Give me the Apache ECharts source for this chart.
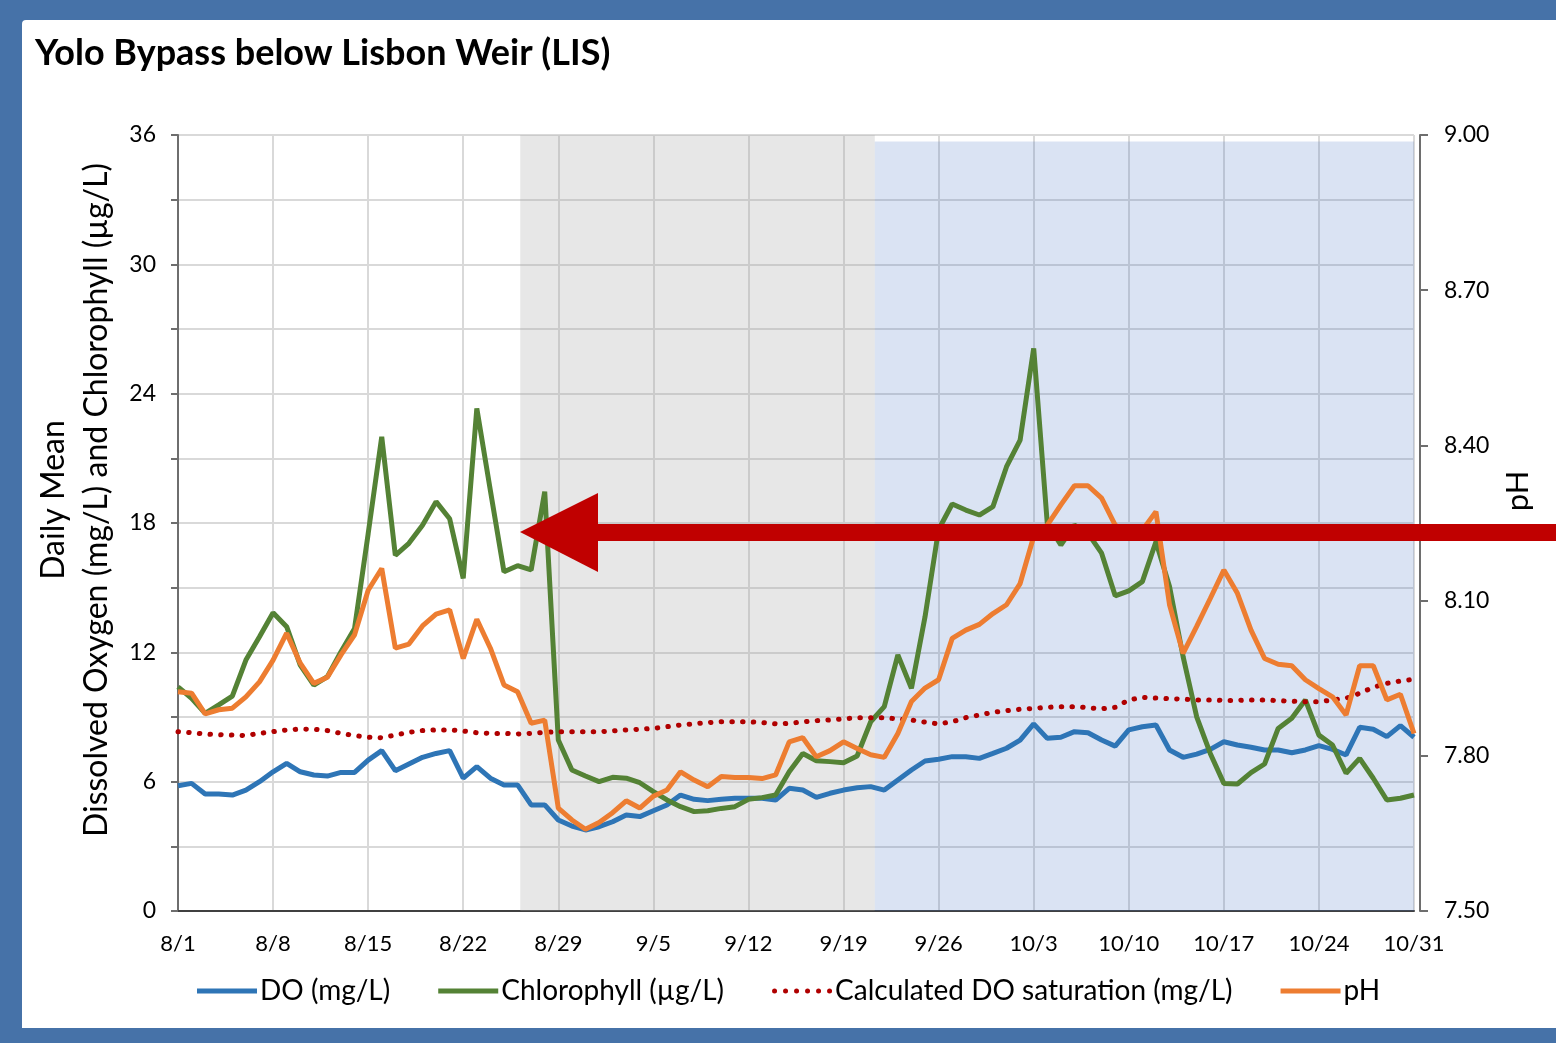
<!DOCTYPE html>
<html>
<head>
<meta charset="utf-8">
<script src="https://cdn.jsdelivr.net/npm/echarts@6/dist/echarts.min.js"></script>
<style>
html,body{margin:0;padding:0;width:1556px;height:1043px;overflow:hidden;background:#4672a8;}
#panel{position:absolute;left:22px;top:20px;width:1534px;height:1008px;background:#ffffff;border-top-left-radius:4px;}
#chart{position:absolute;left:0;top:0;width:1556px;height:1043px;}
</style>
</head>
<body>
<div id="panel"></div>
<div id="chart"></div>
<script>
// Day labels, 8/1 .. 10/31
const dates = [
 '8/1','8/2','8/3','8/4','8/5','8/6','8/7','8/8','8/9','8/10','8/11','8/12','8/13','8/14','8/15','8/16',
 '8/17','8/18','8/19','8/20','8/21','8/22','8/23','8/24','8/25','8/26','8/27','8/28','8/29','8/30','8/31',
 '9/1','9/2','9/3','9/4','9/5','9/6','9/7','9/8','9/9','9/10','9/11','9/12','9/13','9/14','9/15',
 '9/16','9/17','9/18','9/19','9/20','9/21','9/22','9/23','9/24','9/25','9/26','9/27','9/28','9/29','9/30',
 '10/1','10/2','10/3','10/4','10/5','10/6','10/7','10/8','10/9','10/10','10/11','10/12','10/13','10/14','10/15','10/16',
 '10/17','10/18','10/19','10/20','10/21','10/22','10/23','10/24','10/25','10/26','10/27','10/28','10/29','10/30','10/31'
];

const doValues = [
 5.81,5.92,5.43,5.43,5.38,5.61,6.00,6.46,6.85,6.46,6.31,6.26,6.43,6.43,7.00,7.44,
 6.51,6.82,7.13,7.31,7.44,6.16,6.70,6.16,5.85,5.85,4.92,4.92,4.22,3.94,3.76,
 3.91,4.14,4.45,4.38,4.65,4.92,5.38,5.18,5.12,5.18,5.23,5.23,5.23,5.15,5.69,
 5.61,5.27,5.46,5.61,5.72,5.77,5.61,6.08,6.54,6.96,7.04,7.16,7.16,7.08,7.31,
 7.55,7.93,8.68,8.01,8.06,8.32,8.27,7.93,7.65,8.40,8.55,8.63,7.47,7.13,7.28,7.50,
 7.85,7.70,7.60,7.47,7.47,7.34,7.47,7.67,7.50,7.24,8.52,8.43,8.09,8.60,8.06
];

const chlorophyll = [
 10.40,9.87,9.17,9.56,9.97,11.64,12.72,13.84,13.19,11.41,10.48,10.87,12.03,13.11,17.50,22.00,
 16.50,17.06,17.90,18.99,18.20,15.43,23.32,19.50,15.74,16.02,15.82,19.45,7.93,6.54,6.26,
 6.00,6.20,6.16,5.95,5.54,5.15,4.84,4.61,4.65,4.76,4.84,5.18,5.26,5.38,6.46,
 7.31,6.97,6.93,6.88,7.19,8.78,9.48,11.88,10.33,13.65,17.70,18.88,18.60,18.37,18.76,
 20.61,21.85,26.10,17.98,16.98,17.90,17.52,16.60,14.62,14.85,15.28,17.13,15.05,11.80,9.01,7.31,
 5.92,5.89,6.42,6.82,8.47,8.94,9.79,8.16,7.70,6.39,7.08,6.16,5.15,5.23,5.38
];

const doSaturation = [
 8.32,8.27,8.21,8.18,8.16,8.14,8.24,8.32,8.40,8.44,8.43,8.37,8.24,8.14,8.06,8.04,
 8.16,8.29,8.37,8.40,8.40,8.35,8.27,8.24,8.24,8.21,8.24,8.29,8.32,8.32,8.32,
 8.32,8.35,8.40,8.43,8.47,8.55,8.63,8.68,8.74,8.78,8.78,8.78,8.74,8.68,8.70,
 8.78,8.83,8.86,8.91,8.97,8.97,8.97,8.91,8.86,8.76,8.68,8.78,8.97,9.09,9.22,
 9.29,9.36,9.40,9.45,9.48,9.48,9.43,9.38,9.45,9.79,9.91,9.88,9.85,9.83,9.79,9.79,
 9.77,9.77,9.79,9.79,9.76,9.73,9.71,9.71,9.79,9.87,10.10,10.38,10.56,10.67,10.75
];

const phValues = [
 7.924,7.921,7.881,7.889,7.892,7.914,7.943,7.985,8.037,7.979,7.940,7.952,7.995,8.034,8.120,8.162,
 8.008,8.016,8.051,8.074,8.082,7.988,8.064,8.008,7.937,7.924,7.863,7.869,7.699,7.676,7.658,
 7.671,7.690,7.713,7.699,7.722,7.734,7.769,7.753,7.740,7.760,7.758,7.758,7.756,7.763,7.827,
 7.835,7.798,7.810,7.827,7.814,7.802,7.797,7.843,7.905,7.931,7.947,8.027,8.043,8.054,8.075,
 8.092,8.133,8.224,8.246,8.285,8.322,8.322,8.298,8.246,8.227,8.236,8.272,8.092,7.998,8.050,8.104,
 8.159,8.114,8.043,7.988,7.977,7.974,7.947,7.930,7.914,7.879,7.974,7.974,7.908,7.919,7.843
];

const seriesNames = ['DO (mg/L)', 'Chlorophyll (µg/L)', 'Calculated DO saturation (mg/L)', 'pH'];
const grayPeriod = [25.2, 51.3];   // day index range of grey shading
const bluePeriod = [51.3, 91.1];   // day index range of blue shading

const FONT = 'Lato, "Open Sans", sans-serif';
const pairs = arr => arr.map((v, i) => [i, v]);

// legend icon: a row of six round dots
let dotPath = 'path://';
for (let k = 0; k < 6; k++) {
  const cx = 2.5 + k * 11;
  dotPath += 'M' + (cx - 2.5) + ',2.5a2.5,2.5 0 1,0 5,0a2.5,2.5 0 1,0 -5,0z';
}

const chart = echarts.init(document.getElementById('chart'), null, {renderer: 'canvas'});
chart.setOption({
  backgroundColor: 'transparent',
  animation: false,
  textStyle: {fontFamily: FONT, color: '#000'},
  title: {
    text: 'Yolo Bypass below Lisbon Weir (LIS)',
    left: 30, top: 30,
    textStyle: {fontFamily: FONT, fontSize: 36, fontWeight: 'bold', color: '#000'}
  },
  grid: {left: 178, right: 142, top: 135, bottom: 132, containLabel: false},
  legend: {
    data: [
      {name: seriesNames[0], icon: 'rect'},
      {name: seriesNames[1], icon: 'rect'},
      {name: seriesNames[2], icon: dotPath},
      {name: seriesNames[3], icon: 'rect'}
    ],
    left: 192, top: 972,
    itemWidth: 60, itemHeight: 5, itemGap: 48,
    textStyle: {fontFamily: FONT, fontSize: 28, color: '#000', padding: [0, 0, 0, -2]}
  },
  xAxis: {
    type: 'value', min: 0, max: 91, interval: 7,
    axisLine: {show: true, onZero: false, lineStyle: {color: '#404040', width: 2}},
    axisTick: {show: false},
    axisLabel: {
      margin: 22, fontSize: 22, color: '#000', fontFamily: FONT,
      formatter: v => dates[v] || ''
    },
    splitLine: {show: true, lineStyle: {color: '#d9d9d9', width: 2}}
  },
  yAxis: [{
    type: 'value', min: 0, max: 36, interval: 3, position: 'left',
    name: 'Daily Mean\nDissolved Oxygen (mg/L) and Chlorophyll (µg/L)',
    nameLocation: 'middle', nameRotate: 90, nameGap: 60,
    nameTextStyle: {fontFamily: FONT, fontSize: 32, lineHeight: 43, color: '#000', padding: [0, 0, 0, 46]},
    axisLine: {show: true, lineStyle: {color: '#6e6e6e', width: 2}},
    axisTick: {show: true, inside: false, length: 7, lineStyle: {color: '#6e6e6e', width: 2}},
    axisLabel: {margin: 22, fontSize: 23, color: '#000', fontFamily: FONT,
      formatter: v => (v % 6 === 0 ? String(v) : '')},
    splitLine: {show: true, lineStyle: {color: '#d9d9d9', width: 2}}
  }, {
    type: 'value', min: 7.5, max: 9.0, interval: 0.3, position: 'right', offset: 6,
    name: 'pH', nameLocation: 'middle', nameRotate: 90, nameGap: 82,
    nameTextStyle: {fontFamily: FONT, fontSize: 31, color: '#000', padding: [0, 0, 0, 64]},
    axisLine: {show: true, lineStyle: {color: '#6e6e6e', width: 2}},
    axisTick: {show: true, inside: false, length: 8, lineStyle: {color: '#6e6e6e', width: 2}},
    axisLabel: {margin: 24, fontSize: 23, color: '#000', fontFamily: FONT,
      formatter: v => v.toFixed(2)},
    splitLine: {show: false}
  }],
  series: [
    {name: seriesNames[0], type: 'line', yAxisIndex: 0, data: pairs(doValues), symbol: 'none', z: 2,
     lineStyle: {color: '#2e75b6', width: 5}, itemStyle: {color: '#2e75b6'}},
    {name: seriesNames[1], type: 'line', yAxisIndex: 0, data: pairs(chlorophyll), symbol: 'none', z: 2,
     lineStyle: {color: '#548235', width: 5}, itemStyle: {color: '#548235'}},
    {name: seriesNames[2], type: 'line', yAxisIndex: 0, data: pairs(doSaturation), symbol: 'none', z: 2,
     lineStyle: {color: '#b00000', width: 5, type: [0.5, 10.2], cap: 'round'}, itemStyle: {color: '#b00000'}},
    {name: seriesNames[3], type: 'line', yAxisIndex: 1, data: pairs(phValues), symbol: 'none', z: 2,
     lineStyle: {color: '#ed7d31', width: 5}, itemStyle: {color: '#ed7d31'}},
    {name: 'shading', type: 'line', yAxisIndex: 0, data: [], z: 5, silent: true,
     markArea: {
       silent: true,
       data: [
         [{xAxis: grayPeriod[0], itemStyle: {color: 'rgba(166,166,166,0.27)'}}, {xAxis: grayPeriod[1]}],
         [{coord: [bluePeriod[0], -0.2], itemStyle: {color: 'rgba(68,114,196,0.2)'}}, {coord: [bluePeriod[1], 35.7]}]
       ]
     }}
  ],
  graphic: [
    {type: 'polygon', z: 100, shape: {points: [[520, 532], [598, 493], [598, 572]]}, style: {fill: '#c00000'}},
    {type: 'rect', z: 100, shape: {x: 596, y: 524, width: 960, height: 17}, style: {fill: '#c00000'}}
  ]
});
</script>
</body>
</html>
